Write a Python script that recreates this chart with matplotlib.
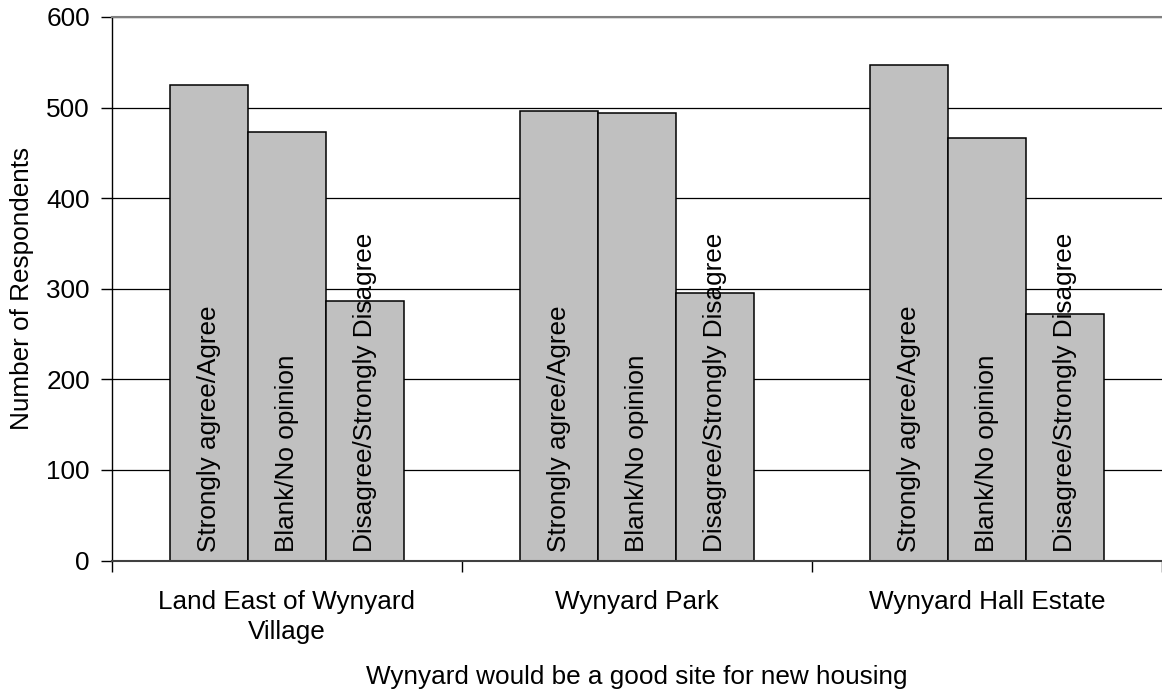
import matplotlib.pyplot as plt
import numpy as np

plt.rcParams['font.family'] = ['Liberation Sans', 'DejaVu Sans']

# data
sites = ['Land East of Wynyard\nVillage', 'Wynyard Park', 'Wynyard Hall Estate']
responses = ['Strongly agree/Agree', 'Blank/No opinion', 'Disagree/Strongly Disagree']
agree = [525, 496, 547]
no_opinion = [473, 494, 466]
disagree = [287, 295, 272]
yticks = [0, 100, 200, 300, 400, 500, 600]

series = [agree, no_opinion, disagree]

fig = plt.figure(figsize=(11.62, 6.9), dpi=100)
ax = fig.add_axes([112/1162, 1 - 560.5/690, 1 - 112/1162, (560.5 - 17)/690])

fs = 18.8
w = 1 / 4.5  # Excel gap width 150%
x = np.arange(len(sites))
for j, vals in enumerate(series):
    pos = x + (j - 1) * w
    ax.bar(pos, vals, width=w, color='#C0C0C0', edgecolor='black',
           linewidth=1.1, zorder=2)
    for p in pos:
        ax.text(p, 9, responses[j], rotation=90, ha='center', va='bottom',
                fontsize=fs, zorder=4)

ax.set_xlim(-0.5, len(sites) - 0.5)
ax.set_ylim(0, 600)
ax.set_yticks(yticks)
ax.tick_params(axis='y', labelsize=fs, length=8, width=1, pad=8)
ax.yaxis.grid(True, color='black', linewidth=0.9, zorder=1)
ax.set_axisbelow(True)

# group boundaries as major ticks, names on minor ticks
ax.set_xticks(np.arange(len(sites) + 1) - 0.5)
ax.set_xticklabels([])
ax.set_xticks(x, minor=True)
ax.set_xticklabels(sites, minor=True, fontsize=fs, linespacing=1.35)
ax.tick_params(axis='x', which='major', length=8, width=1)
ax.tick_params(axis='x', which='minor', length=0, pad=21)

ax.spines['right'].set_visible(False)
ax.spines['top'].set_color('#808080')
ax.spines['top'].set_linewidth(1.5)
ax.spines['left'].set_linewidth(1)
ax.spines['bottom'].set_color('#404040')
ax.spines['bottom'].set_linewidth(1.5)

ax.set_ylabel('Number of Respondents', fontsize=fs)
ax.yaxis.label.set_va('center')
ax.yaxis.set_label_coords(-(112 - 22.5) / 1050, 0.5)
ax.set_xlabel('Wynyard would be a good site for new housing', fontsize=fs)
ax.xaxis.label.set_va('center')
ax.xaxis.set_label_coords(0.5, -(677 - 560.5) / 543.5)

fig.savefig('out.png', dpi=100)
